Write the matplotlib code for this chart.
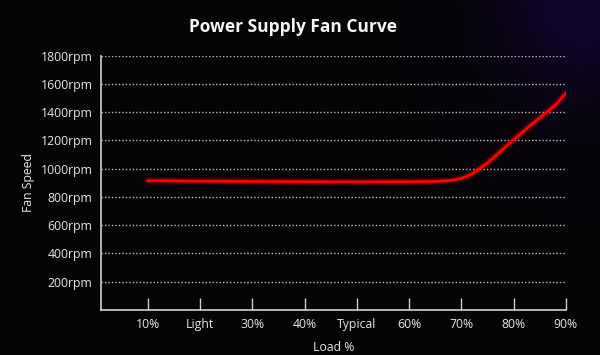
import matplotlib
matplotlib.use('Agg')
import matplotlib.pyplot as plt
import numpy as np

plt.rcParams['font.family'] = ['Open Sans', 'DejaVu Sans']

# categories on the load axis
load_labels = ['10%', 'Light', '30%', '40%', 'Typical', '60%', '70%', '80%', '90%']
# fan curve (position on load axis, rpm)
curve_pos = [1, 2, 3, 4, 5, 6, 6.5, 6.8, 7, 7.2, 7.5, 7.8, 8, 8.3, 8.5, 8.8, 9]
curve_rpm = [915, 912, 910, 908, 907, 908, 910, 917, 931, 962, 1040, 1140, 1205, 1300, 1360, 1450, 1535]
rpm_ticks = [200, 400, 600, 800, 1000, 1200, 1400, 1600, 1800]

fig = plt.figure(figsize=(6, 3.55), dpi=100)
fig.patch.set_facecolor('#050406')

# dark backdrop with a faint purple glow top right
bg = fig.add_axes([0, 0, 1, 1], zorder=-1)
gx, gy = np.meshgrid(np.linspace(0, 1, 300), np.linspace(0, 1, 180))
glow = np.exp(-(((gx - 0.97) / 0.15) ** 2 + ((gy - 0.0) / 0.3) ** 2))
img = np.zeros((180, 300, 3))
img[..., 0] = 0.02 + 0.05 * glow
img[..., 1] = 0.015 + 0.01 * glow
img[..., 2] = 0.025 + 0.15 * glow
bg.imshow(img, aspect='auto', extent=[0, 1, 0, 1])
bg.axis('off')

ax = fig.add_axes([0.168, 0.127, 0.775, 0.716])
ax.set_facecolor('none')

# glowing red line
for lw, a in [(6, 0.1), (4, 0.2)]:
    ax.plot(curve_pos, curve_rpm, color='#ff1010', lw=lw, alpha=a,
            solid_capstyle='round')
ax.plot(curve_pos, curve_rpm, color='#ff0000', lw=2, solid_capstyle='round')

ax.set_xlim(0.1, 9)
ax.set_ylim(0, 1800)
ax.set_xticks(range(1, 10))
ax.set_xticklabels(load_labels)
ax.set_yticks(rpm_ticks)
ax.set_yticklabels([f'{v}rpm' for v in rpm_ticks])

for v in rpm_ticks:
    ax.axhline(v, color='#bbbbbb', lw=1.0, ls=(0, (1, 1.5)), zorder=0)

for s in ['top', 'right']:
    ax.spines[s].set_visible(False)
for s in ['left', 'bottom']:
    ax.spines[s].set_color('#d0d0d0')
    ax.spines[s].set_linewidth(1.2)

ax.tick_params(axis='x', direction='in', length=9, width=1, color='#d0d0d0',
               labelcolor='#e6e6e6', labelsize=8.8, pad=6)
ax.tick_params(axis='y', length=0, labelcolor='#e6e6e6', labelsize=8.8, pad=6)

ax.set_xlabel('Load %', color='#e6e6e6', fontsize=8.8, labelpad=7)
ax.set_ylabel('Fan Speed', color='#e6e6e6', fontsize=8.8, labelpad=4)

fig.text(0.488, 0.924, 'Power Supply Fan Curve', color='#f5f5f5',
         fontsize=12.5, fontweight='bold', ha='center', va='center')

plt.savefig('out.png', dpi=100, facecolor=fig.get_facecolor())
